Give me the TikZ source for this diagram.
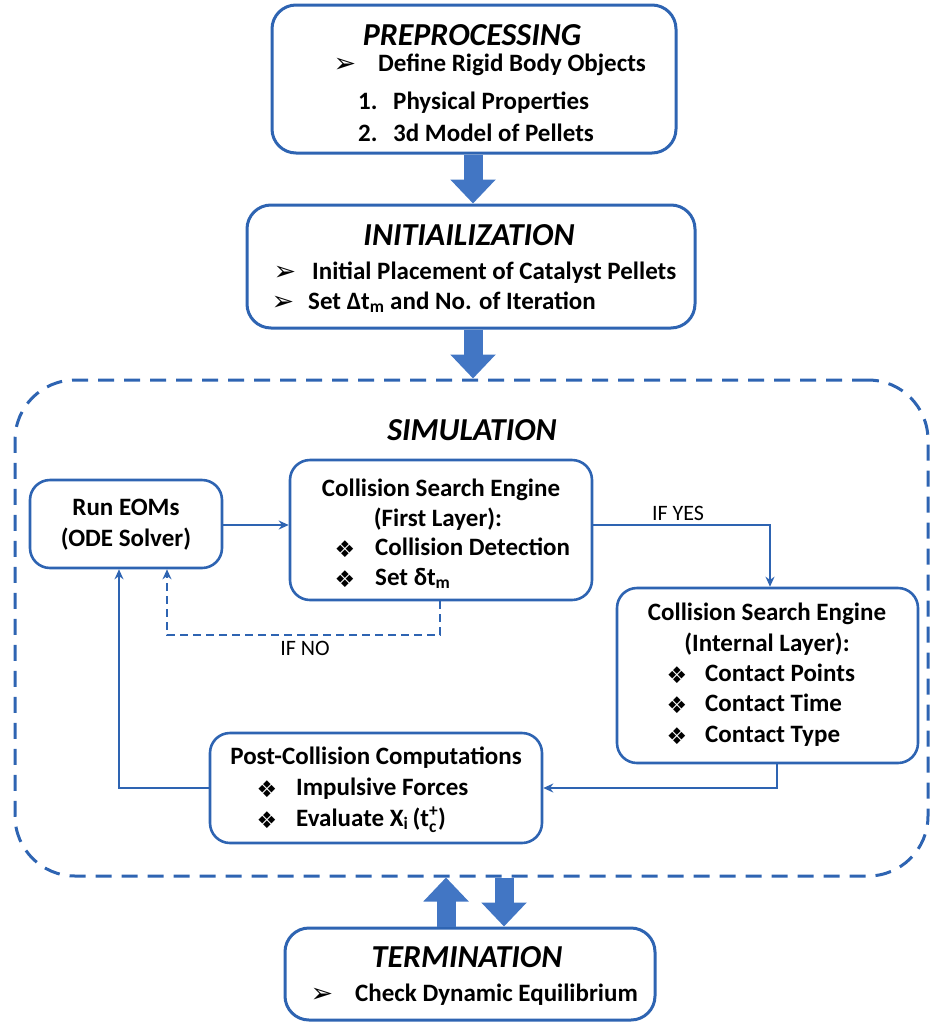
\documentclass[tikz,border=0pt]{standalone}
\usepackage{fontspec}
\usepackage{amsmath}
\setmainfont{Carlito}
\newfontfamily\dingfont{DejaVu Sans}
\usetikzlibrary{arrows.meta,calc}
\definecolor{bord}{RGB}{46,100,178}
\definecolor{arrfill}{RGB}{66,118,196}
\begin{document}
\begin{tikzpicture}[x=1pt,y=-1pt,
  box/.style={draw=bord, line width=3pt, rounded corners=24pt, inner sep=0pt},
  ibox/.style={draw=bord, line width=2.6pt, rounded corners=20pt, inner sep=0pt},
  simbox/.style={draw=bord, line width=3pt, rounded corners=60pt, inner sep=0pt, dash pattern=on 16pt off 10pt},
  ttl/.style={font=\fontsize{32}{38}\selectfont\bfseries\itshape, inner sep=0pt, text height=21pt, text depth=0pt},
  txt/.style={font=\fontsize{25}{30}\selectfont\bfseries, inner sep=0pt, anchor=west, text height=17pt, text depth=5pt},
  ctxt/.style={font=\fontsize{25}{30}\selectfont\bfseries, inner sep=0pt, text height=17pt, text depth=5pt},
  bul/.style={font=\fontsize{27}{30}\selectfont\dingfont, inner sep=0pt},
  dia/.style={font=\fontsize{23}{26}\selectfont\dingfont, inner sep=0pt},
  lbl/.style={font=\fontsize{22}{26}\selectfont, inner sep=0pt},
  conn/.style={draw=bord, line width=2pt, -{Stealth[length=10pt,width=9pt]}},
  dconn/.style={conn, dash pattern=on 8pt off 5pt},
  blk/.style={draw=arrfill, line width=19pt, -{Triangle[length=24pt,width=44pt]}}
]
\useasboundingbox (0,0) rectangle (932,1023);

% boxes
\node[box, minimum width=404pt, minimum height=148pt] (pre) at (474,79) {};
\node[box, minimum width=448pt, minimum height=123pt] (ini) at (471,266.5) {};
\node[simbox, minimum width=913pt, minimum height=496pt] (sim) at (471.5,628) {};
\node[ibox, minimum width=192pt, minimum height=88pt] (eom) at (126,524) {};
\node[ibox, minimum width=302pt, minimum height=140pt] (fl) at (441,530) {};
\node[ibox, minimum width=301pt, minimum height=175pt] (il) at (767.5,675.5) {};
\node[ibox, minimum width=332pt, minimum height=110pt] (pc) at (376,788) {};
\node[box, minimum width=370pt, minimum height=92pt] (term) at (470,974) {};

% preprocessing texts
\node[ttl] (tpre) at (472,35) {PREPROCESSING};
\node[bul] (bp1) at (345,65) {➢};
\node[txt] (tp1) at (378,65) {Define Rigid Body Objects};
\node[txt] (np2) at (358,103) {1.};
\node[txt] (tp2) at (393,103) {Physical Properties};
\node[txt] (np3) at (358,135) {2.};
\node[txt] (tp3) at (393,135) {3d Model of Pellets};

% initialization texts
\node[ttl] (tini) at (469,235) {INITIAILIZATION};
\node[bul] (bi1) at (285,273) {➢};
\node[txt] (ti1) at (312,273) {Initial Placement of Catalyst Pellets};
\node[bul] (bi2) at (283,303) {➢};
\node[txt] (ti2) at (308,303) {Set Δt\textsubscript{m} and No. of Iteration};

% simulation
\node[ttl] (tsim) at (472,430) {SIMULATION};
\node[ctxt] (te1) at (126,509) {Run EOMs};
\node[ctxt] (te2) at (126,540) {(ODE Solver)};

\node[ctxt] (tf1) at (441,490) {Collision Search Engine};
\node[ctxt] (tf2) at (438,520) {(First Layer):};
\node[dia] (bf3) at (345,549) {❖};
\node[txt] (tf3) at (375,549) {Collision Detection};
\node[dia] (bf4) at (345,579) {❖};
\node[txt] (tf4) at (375,579) {Set δt\textsubscript{m}};

\node[ctxt] (tl1) at (767,614) {Collision Search Engine};
\node[ctxt] (tl2) at (767,645) {(Internal Layer):};
\node[dia] (bl3) at (677,675) {❖};
\node[txt] (tl3) at (705,675) {Contact Points};
\node[dia] (bl4) at (677,705) {❖};
\node[txt] (tl4) at (705,705) {Contact Time};
\node[dia] (bl5) at (677,736) {❖};
\node[txt] (tl5) at (705,736) {Contact Type};

\node[ctxt] (tc1) at (376,758) {Post-Collision Computations};
\node[dia] (bc2) at (267,789) {❖};
\node[txt] (tc2) at (296,789) {Impulsive Forces};
\node[dia] (bc3) at (267,820) {❖};
\node[txt] (tc3) at (296,820) {Evaluate X\textsubscript{i}\,(t\ensuremath{^{\text{+}}_{\text{c}}})};

\node[lbl] (lyes) at (678,513) {IF YES};
\node[lbl] (lno) at (305,648) {IF NO};

% termination
\node[ttl] (tterm) at (467,957) {TERMINATION};
\node[bul] (bt1) at (322,995) {➢};
\node[txt] (tt1) at (355,995) {Check Dynamic Equilibrium};

% coordinates
\coordinate (ax) at (473,0);
\coordinate (ux) at (446,0);
\coordinate (dx) at (504,0);
\coordinate (yb) at (770,525);
\coordinate (nob) at (440,635);
\coordinate (nox) at (167,635);
\coordinate (fbx) at (119,788);
\coordinate (ix) at (777,0);

% block arrows
\draw[blk] (pre.south -| ax) -- (ini.north -| ax);
\draw[blk] (ini.south -| ax) -- (sim.north -| ax);
\draw[blk] (term.north -| ux) -- (sim.south -| ux);
\draw[blk] (sim.south -| dx) -- (term.north -| dx);

% connectors
\draw[conn] (eom.east |- yb) -- (fl.west |- yb);
\draw[conn] (fl.east |- yb) -| (yb |- il.north);
\draw[dconn] (fl.south -| nob) -- (nob) -- (nox) -- (nox |- eom.south);
\draw[conn] (pc.west) -- (pc.west -| fbx) -- (fbx |- eom.south);
\draw[conn] (il.south -| ix) |- (pc.east);
\end{tikzpicture}
\end{document}
